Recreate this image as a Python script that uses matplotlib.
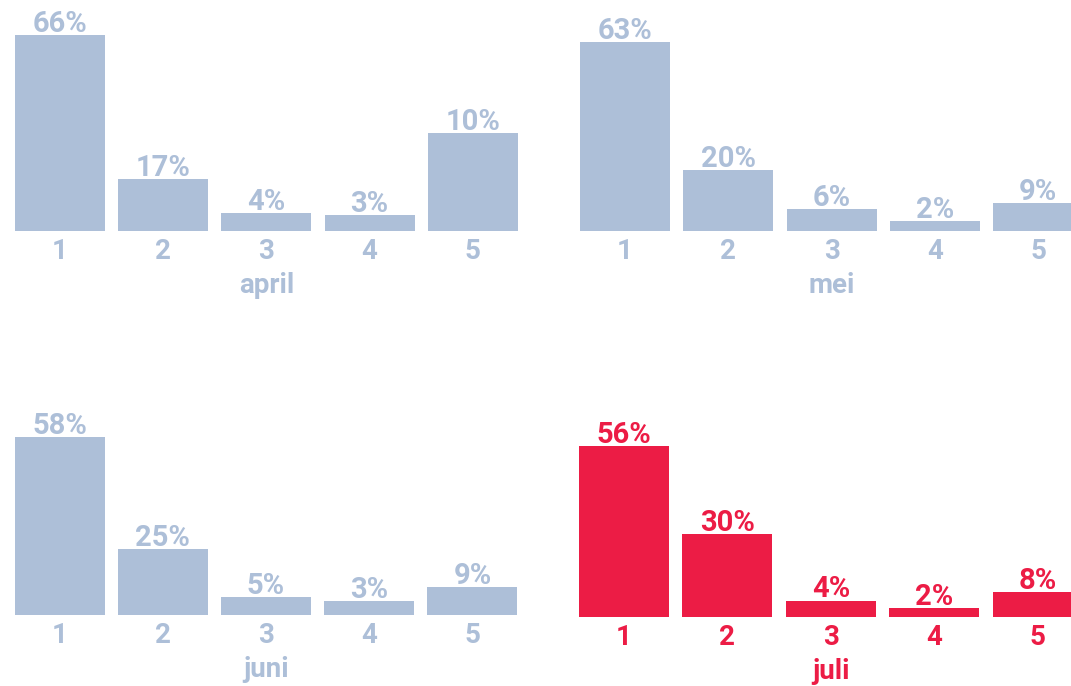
import matplotlib.pyplot as plt

plt.rcParams['font.family'] = ['Roboto', 'DejaVu Sans']

# data
categories = ['1', '2', '3', '4', '5']
months = ['april', 'mei', 'juni', 'juli']

# printed percentages
april_share = [66, 17, 4, 3, 10]
mei_share = [63, 20, 6, 2, 9]
juni_share = [58, 25, 5, 3, 9]
juli_share = [56, 30, 4, 2, 8]

# drawn bar heights (as they appear, same vertical scale)
april_bar = [65.3, 17.3, 5.9, 5.2, 32.6]
mei_bar = [62.9, 20.2, 7.2, 3.2, 9.2]
juni_bar = [59.2, 21.9, 5.9, 4.6, 9.2]
juli_bar = [57.0, 27.9, 5.6, 3.2, 8.3]

blue = '#adbfd8'
red = '#ec1c45'

W, H = 1071, 686
fig = plt.figure(figsize=(W / 100, H / 100), dpi=100)

# (left px, baseline px, width px, bar width) per panel
panels = [
    (april_share, april_bar, months[0], 8.4, 230.7, 516, 0.872, blue),
    (mei_share, mei_bar, months[1], 573.4, 230.7, 516.5, 0.872, blue),
    (juni_share, juni_bar, months[2], 8.0, 614.7, 516, 0.872, blue),
    (juli_share, juli_bar, months[3], 572.3, 617.3, 517, 0.870, red),
]

for share, bar, month, left, base, width, bw, col in panels:
    ax = fig.add_axes([left / W, (H - base) / H, width / W, 210 / H])
    x = range(len(categories))
    ax.bar(x, bar, width=bw, color=col)
    ax.set_xlim(-0.5, 4.5)
    ax.set_ylim(0, 70)
    ax.axis('off')
    for i, (s, h) in enumerate(zip(share, bar)):
        ax.annotate(f'{s}%', (i, h), xytext=(0, 2.2), textcoords='offset points',
                    ha='center', va='baseline', fontsize=21, fontweight='bold',
                    color=col, annotation_clip=False)
        ax.annotate(categories[i], (i, 0), xytext=(0, -20.2), textcoords='offset points',
                    ha='center', va='baseline', fontsize=20, fontweight='bold',
                    color=col, annotation_clip=False)
    ax.annotate(month, (2, 0), xytext=(0, -44.6), textcoords='offset points',
                ha='center', va='baseline', fontsize=20, fontweight='bold',
                color=col, annotation_clip=False)

fig.savefig('out.png', dpi=100)
